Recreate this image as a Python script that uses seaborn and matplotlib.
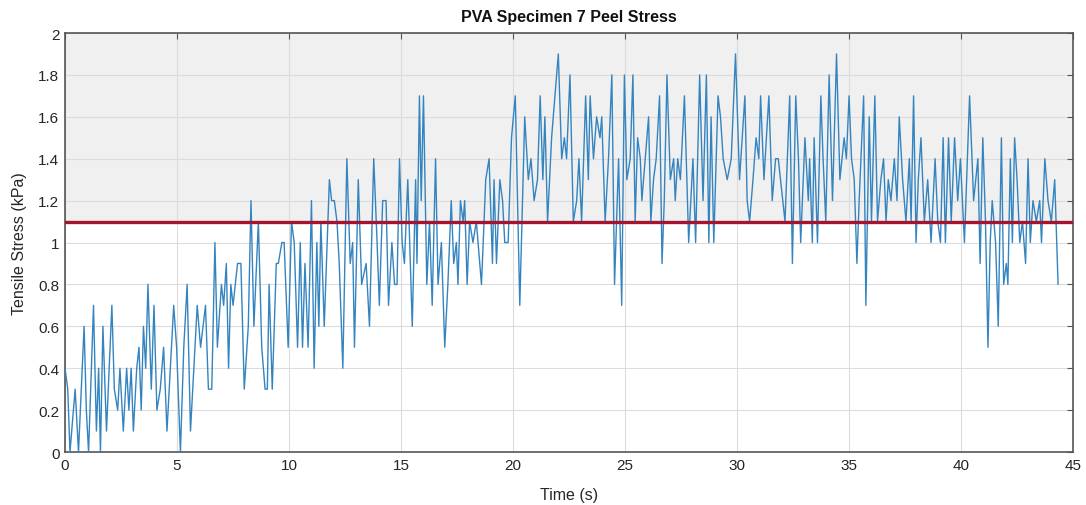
import numpy as np
import pandas as pd
import matplotlib
matplotlib.use("Agg")
import matplotlib.pyplot as plt
import seaborn as sns

time_s = [
    0.00, 0.12, 0.22, 0.45, 0.60, 0.85, 0.95, 1.05, 1.27, 1.40, 1.50, 1.58, 1.69, 1.85, 2.09, 2.20,
    2.35, 2.45, 2.60, 2.75, 2.85, 2.95, 3.05, 3.20, 3.30, 3.40, 3.50, 3.60, 3.70, 3.85, 3.97, 4.10,
    4.25, 4.40, 4.55, 4.70, 4.85, 4.98, 5.15, 5.30, 5.45, 5.60, 5.75, 5.90, 6.05, 6.27, 6.40, 6.55,
    6.69, 6.80, 6.98, 7.08, 7.20, 7.30, 7.40, 7.50, 7.70, 7.85, 8.00, 8.18, 8.30, 8.43, 8.63, 8.78,
    8.93, 9.03, 9.11, 9.25, 9.43, 9.52, 9.68, 9.78, 9.96, 10.11, 10.23, 10.38, 10.50, 10.60, 10.71,
    10.85, 11.00, 11.12, 11.24, 11.33, 11.42, 11.57, 11.80, 11.90, 12.02, 12.14, 12.24, 12.40, 12.58,
    12.73, 12.84, 12.92, 13.09, 13.24, 13.44, 13.59, 13.78, 13.93, 14.03, 14.18, 14.33, 14.44, 14.59,
    14.71, 14.82, 14.93, 15.05, 15.15, 15.30, 15.50, 15.65, 15.71, 15.82, 15.90, 16.00, 16.15, 16.27,
    16.39, 16.54, 16.65, 16.80, 16.95, 17.09, 17.24, 17.35, 17.47, 17.54, 17.65, 17.77, 17.84, 17.95,
    18.06, 18.21, 18.36, 18.59, 18.78, 18.93, 19.08, 19.15, 19.26, 19.41, 19.53, 19.63, 19.78, 19.93,
    20.10, 20.30, 20.52, 20.68, 20.80, 20.94, 21.09, 21.21, 21.33, 21.42, 21.54, 21.72, 22.02, 22.17,
    22.29, 22.39, 22.54, 22.69, 22.84, 22.94, 23.06, 23.24, 23.36, 23.44, 23.59, 23.73, 23.88, 23.96,
    24.11, 24.26, 24.41, 24.53, 24.71, 24.85, 24.97, 25.08, 25.23, 25.35, 25.45, 25.56, 25.68, 25.75,
    25.90, 26.05, 26.15, 26.27, 26.39, 26.54, 26.65, 26.75, 26.87, 27.02, 27.17, 27.24, 27.35, 27.47,
    27.65, 27.84, 28.03, 28.15, 28.33, 28.48, 28.63, 28.74, 28.84, 28.96, 29.15, 29.26, 29.38, 29.56,
    29.74, 29.93, 30.11, 30.35, 30.45, 30.56, 30.71, 30.85, 30.97, 31.05, 31.20, 31.42, 31.57, 31.72,
    31.84, 31.94, 32.14, 32.35, 32.47, 32.62, 32.74, 32.84, 33.03, 33.18, 33.24, 33.36, 33.44, 33.59,
    33.74, 33.84, 33.96, 34.11, 34.26, 34.44, 34.59, 34.78, 34.88, 35.00, 35.11, 35.23, 35.35, 35.45,
    35.65, 35.75, 35.90, 36.00, 36.15, 36.27, 36.42, 36.54, 36.65, 36.75, 36.87, 37.02, 37.14, 37.24,
    37.39, 37.54, 37.69, 37.77, 37.88, 37.99, 38.09, 38.21, 38.36, 38.51, 38.66, 38.84, 38.96, 39.08,
    39.20, 39.30, 39.44, 39.56, 39.71, 39.85, 39.97, 40.15, 40.38, 40.56, 40.75, 40.85, 40.97, 41.09,
    41.20, 41.30, 41.39, 41.54, 41.66, 41.80, 41.90, 42.02, 42.09, 42.20, 42.29, 42.39, 42.50, 42.62,
    42.74, 42.88, 42.99, 43.09, 43.21, 43.36, 43.51, 43.59, 43.74, 43.88, 44.03, 44.18, 44.33,
]

stress_kpa = [
    0.40, 0.30, 0.00, 0.30, 0.00, 0.60, 0.20, 0.00, 0.70, 0.10, 0.40, 0.00, 0.60, 0.10, 0.70, 0.30,
    0.20, 0.40, 0.10, 0.40, 0.20, 0.40, 0.10, 0.40, 0.50, 0.20, 0.60, 0.40, 0.80, 0.30, 0.70, 0.20,
    0.30, 0.50, 0.10, 0.40, 0.70, 0.50, 0.00, 0.50, 0.80, 0.10, 0.40, 0.70, 0.50, 0.70, 0.30, 0.30,
    1.00, 0.50, 0.80, 0.70, 0.90, 0.40, 0.80, 0.70, 0.90, 0.90, 0.30, 0.60, 1.20, 0.60, 1.10, 0.50,
    0.30, 0.30, 0.80, 0.30, 0.90, 0.90, 1.00, 1.00, 0.50, 1.10, 1.00, 0.50, 1.00, 0.50, 0.90,
    0.50, 1.20, 0.40, 1.00, 0.60, 1.10, 0.60, 1.30, 1.20, 1.20, 1.10, 0.90, 0.40, 1.40,
    0.90, 1.00, 0.50, 1.30, 0.80, 0.90, 0.60, 1.40, 1.00, 0.70, 1.20, 1.20, 0.70, 1.00,
    0.80, 0.80, 1.40, 1.00, 0.90, 1.30, 0.60, 1.30, 0.90, 1.70, 1.20, 1.70, 0.80, 1.10,
    0.70, 1.40, 0.80, 1.00, 0.50, 0.80, 1.20, 0.90, 1.00, 0.80, 1.20, 1.10, 1.20, 0.80,
    1.10, 1.00, 1.10, 0.80, 1.30, 1.40, 0.90, 1.30, 0.90, 1.30, 1.20, 1.00, 1.00, 1.50,
    1.70, 0.70, 1.60, 1.30, 1.40, 1.20, 1.30, 1.70, 1.30, 1.60, 1.10, 1.50, 1.90, 1.40,
    1.50, 1.40, 1.80, 1.10, 1.20, 1.40, 1.10, 1.70, 1.30, 1.70, 1.40, 1.60, 1.50, 1.60,
    1.10, 1.40, 1.80, 0.80, 1.40, 0.70, 1.80, 1.30, 1.40, 1.80, 1.10, 1.50, 1.40, 1.20,
    1.40, 1.60, 1.10, 1.30, 1.40, 1.70, 0.90, 1.20, 1.80, 1.30, 1.40, 1.20, 1.40, 1.30,
    1.70, 1.00, 1.40, 1.00, 1.80, 1.20, 1.80, 1.00, 1.60, 1.00, 1.70, 1.60, 1.40, 1.30,
    1.40, 1.90, 1.30, 1.70, 1.20, 1.10, 1.30, 1.50, 1.40, 1.70, 1.30, 1.70, 1.20, 1.40,
    1.40, 1.30, 1.10, 1.70, 0.90, 1.70, 1.40, 1.00, 1.50, 1.20, 1.40, 1.00, 1.50, 1.00,
    1.70, 1.40, 1.10, 1.80, 1.20, 1.90, 1.30, 1.50, 1.40, 1.70, 1.40, 1.30, 0.90, 1.20,
    1.70, 0.70, 1.60, 1.10, 1.70, 1.10, 1.30, 1.40, 1.10, 1.30, 1.20, 1.40, 1.20, 1.60,
    1.30, 1.10, 1.40, 1.10, 1.70, 1.00, 1.30, 1.50, 1.10, 1.30, 1.00, 1.40, 1.10, 1.00,
    1.50, 1.00, 1.50, 1.10, 1.50, 1.20, 1.40, 1.00, 1.70, 1.20, 1.40, 0.90, 1.50, 1.10,
    0.50, 1.00, 1.20, 1.00, 0.60, 1.50, 0.80, 0.90, 0.80, 1.40, 1.00, 1.50, 1.30, 1.00,
    1.10, 0.90, 1.40, 1.00, 1.20, 1.10, 1.20, 1.00, 1.40, 1.20, 1.10, 1.30, 0.80,
]

threshold_kpa = 1.1
x_ticks = [0, 5, 10, 15, 20, 25, 30, 35, 40, 45]
y_ticks = [0, 0.2, 0.4, 0.6, 0.8, 1.0, 1.2, 1.4, 1.6, 1.8, 2.0]
y_tick_labels = ["0", "0.2", "0.4", "0.6", "0.8", "1", "1.2", "1.4", "1.6", "1.8", "2"]

df = pd.DataFrame({"Time (s)": time_s, "Tensile Stress (kPa)": stress_kpa})

sns.set_theme(style="white")
plt.rcParams["font.family"] = ["Liberation Sans", "DejaVu Sans"]

fig = plt.figure(figsize=(10.86, 5.06), dpi=100)
ax = fig.add_axes([0.0599, 0.1047, 0.9282, 0.8281])

ax.axhspan(threshold_kpa, 2.0, color="#f0f0f0", zorder=0, lw=0)

sns.lineplot(data=df, x="Time (s)", y="Tensile Stress (kPa)", ax=ax,
             color="#3484c0", linewidth=1.0, sort=False, estimator=None, zorder=3)
ax.axhline(threshold_kpa, color="#a2142f", linewidth=2.4, zorder=4)

ax.set_xlim(0, 45)
ax.set_ylim(0, 2)
ax.set_xticks(x_ticks)
ax.set_yticks(y_ticks)
ax.set_yticklabels(y_tick_labels)
ax.grid(True, color="#dcdcdc", linewidth=0.8, zorder=1)
ax.set_axisbelow(True)

for s in ax.spines.values():
    s.set_color("#555555")
    s.set_linewidth(1.2)

ax.tick_params(axis="both", direction="in", length=4, width=0.8, color="#555555",
               labelsize=11, labelcolor="#262626", top=True, right=True, pad=4)

ax.set_xlabel("Time (s)", fontsize=11.5, color="#262626", labelpad=11)
ax.set_ylabel("Tensile Stress (kPa)", fontsize=11.5, color="#262626", labelpad=8)
ax.set_title("PVA Specimen 7 Peel Stress", fontsize=11.5, fontweight="bold", color="#111111", pad=9)

fig.savefig("out.png", dpi=100)
